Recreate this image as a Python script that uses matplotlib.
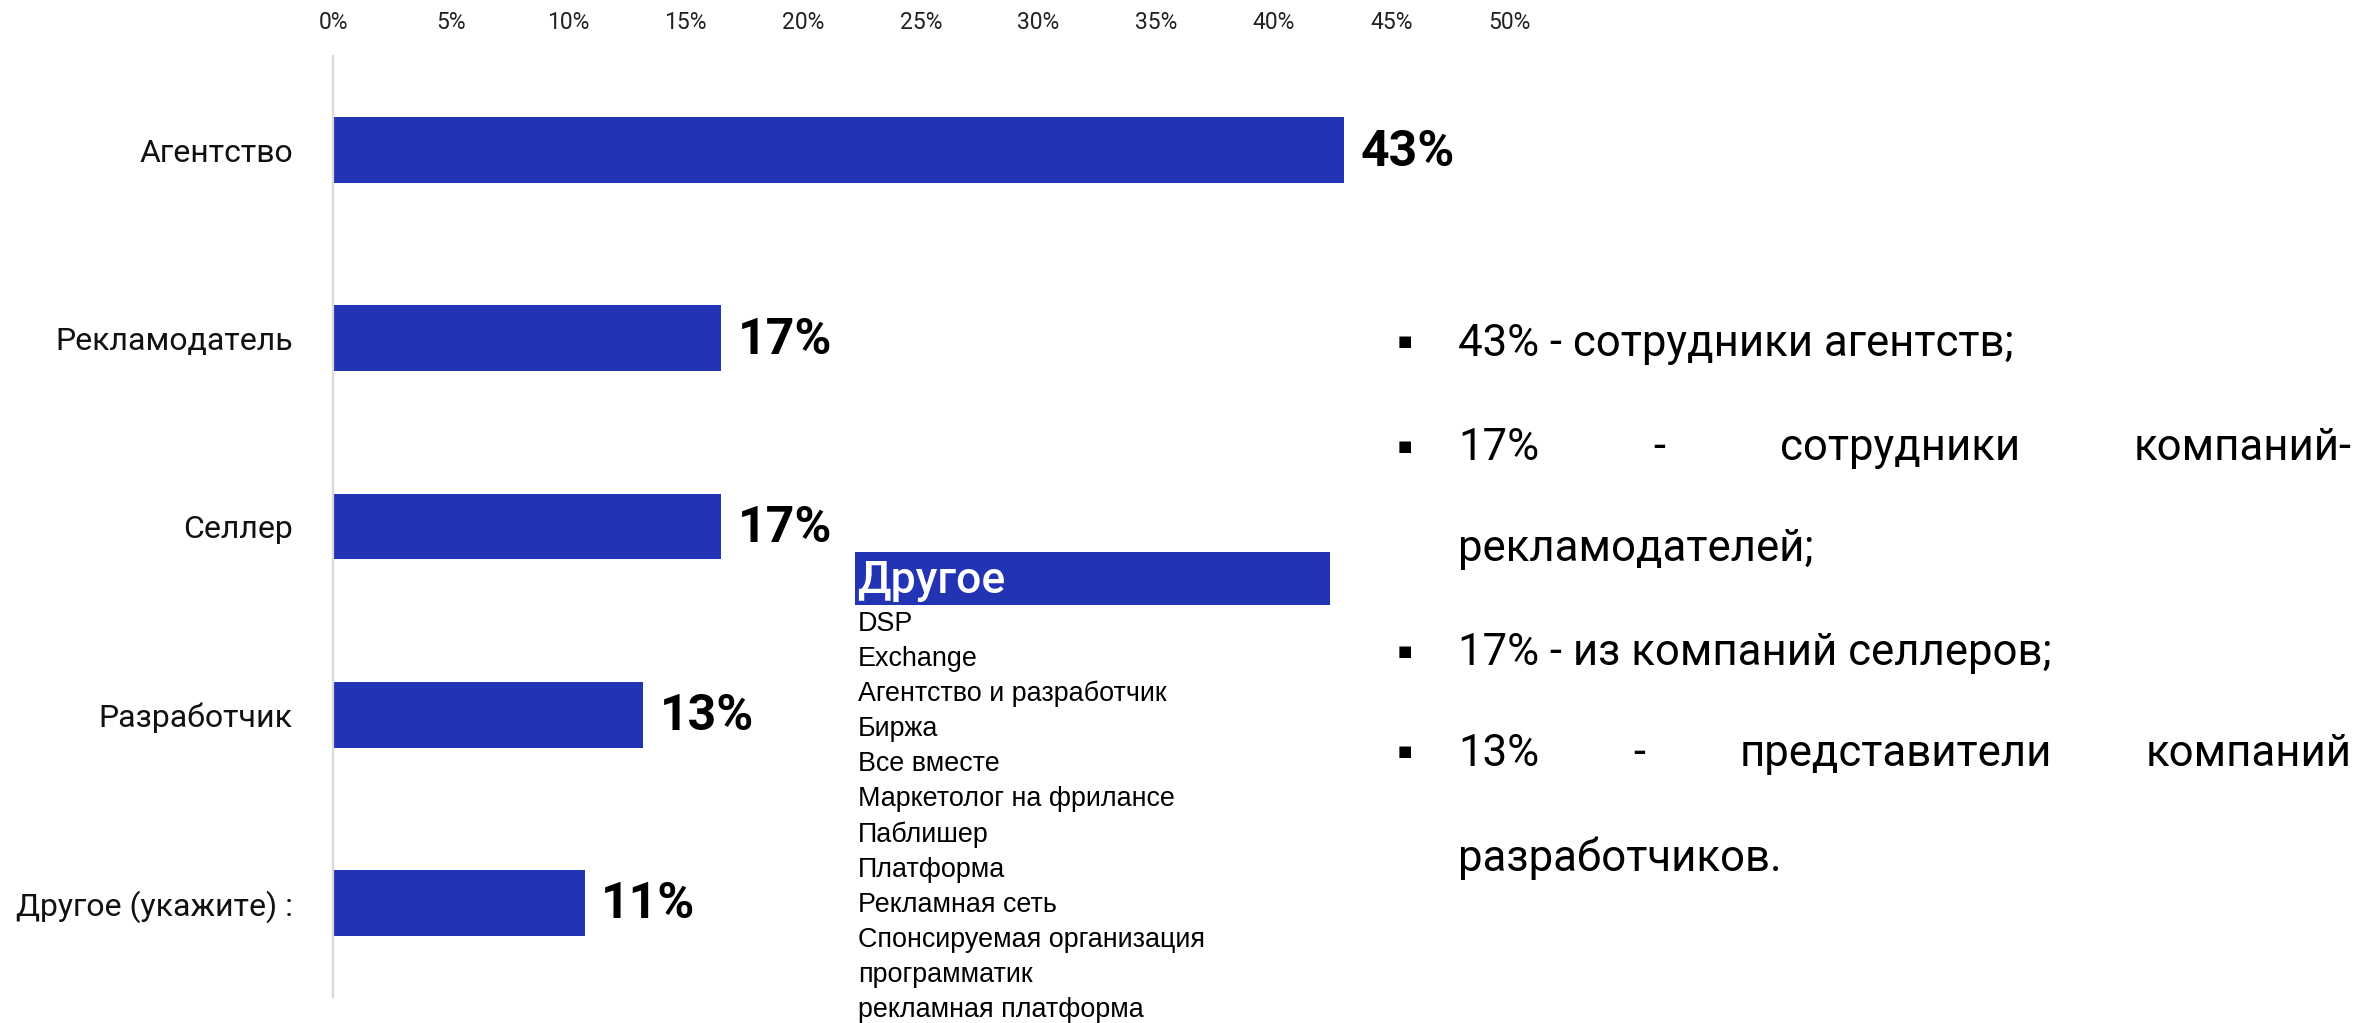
import matplotlib
matplotlib.use("Agg")
import matplotlib.pyplot as plt
from matplotlib.patches import Rectangle

# ---------------- data ----------------
categories = ["Агентство", "Рекламодатель", "Селлер", "Разработчик", "Другое (укажите) :"]
values = [43.0, 16.5, 16.5, 13.2, 10.7]
value_labels = ["43%", "17%", "17%", "13%", "11%"]
xticks = [0, 5, 10, 15, 20, 25, 30, 35, 40, 45, 50]
xtick_labels = [f"{t}%" for t in xticks]

other_title = "Другое"
other_items = ["DSP", "Exchange", "Агентство и разработчик", "Биржа", "Все вместе",
               "Маркетолог на фрилансе", "Паблишер", "Платформа", "Рекламная сеть",
               "Спонсируемая организация", "программатик", "рекламная платформа"]

bullet_lines = [
    ["43% - сотрудники агентств;"],
    ["17%", "-", "сотрудники", "компаний-"],
    ["рекламодателей;"],
    ["17% - из компаний селлеров;"],
    ["13%", "-", "представители", "компаний"],
    ["разработчиков."],
]
bullet_flags = [True, True, False, True, True, False]

# ---------------- style ----------------
BLUE = "#2233B4"
W, H = 2364, 1023
FONT = ["Roboto", "DejaVu Sans"]

fig = plt.figure(figsize=(W / 100, H / 100), dpi=100)
fig.patch.set_facecolor("white")


def fx(x):
    return x / W


def fy(y):
    return 1 - y / H


ax = fig.add_axes([fx(333), fy(997), (1509 - 333) / W, (997 - 56) / H])
ypos = list(range(len(categories)))
ax.barh(ypos, values, height=0.35, color=BLUE, edgecolor="none")
ax.set_xlim(0, 50)
ax.set_ylim(len(categories) - 0.5, -0.5)

ax.xaxis.tick_top()
ax.set_xticks(xticks)
ax.set_xticklabels(xtick_labels, fontsize=16.5, family=FONT, color="#222222")
ax.tick_params(axis="x", length=0, pad=16)
ax.set_yticks(ypos)
ax.set_yticklabels(categories, fontsize=23, family=FONT, color="#111111")
ax.tick_params(axis="y", length=0, pad=29)

for s in ["top", "right", "bottom"]:
    ax.spines[s].set_visible(False)
ax.spines["left"].set_color("#d9d9d9")
ax.spines["left"].set_linewidth(1.6)

for i, (v, lab) in enumerate(zip(values, value_labels)):
    ax.annotate(lab, (v, i), xytext=(12, -1.5), textcoords="offset points",
                ha="left", va="center", fontsize=36, fontweight="bold",
                family=FONT, color="#000000")

# ---------------- "Другое" box ----------------
fig.patches.append(Rectangle((fx(855), fy(605)), (1330 - 855) / W, (605 - 552) / H,
                             transform=fig.transFigure, facecolor=BLUE,
                             edgecolor="none", zorder=1))
fig.text(fx(857), fy(581), other_title, fontsize=32, fontweight="medium",
         family=FONT, color="white", ha="left", va="center", zorder=2)

item_y0, item_dy = 624, 35.1
for k, item in enumerate(other_items):
    fig.text(fx(858), fy(item_y0 + k * item_dy), item, fontsize=19.4,
             family=["Liberation Sans", "DejaVu Sans"], color="#000000",
             ha="left", va="center")

# ---------------- bullet paragraph ----------------
line_y = [344, 448, 549, 653, 754, 858]
x_left, x_right, x_bullet = 1458, 2352, 1405
fs_text = 31.5

fig.canvas.draw()
renderer = fig.canvas.get_renderer()

for words, bul, yy in zip(bullet_lines, bullet_flags, line_y):
    if bul:
        fig.text(fx(x_bullet), fy(yy - 2), "■", fontsize=11, family="DejaVu Sans",
                 color="#000000", ha="center", va="center")
    if len(words) == 1:
        fig.text(fx(x_left), fy(yy), words[0], fontsize=fs_text, family=FONT,
                 color="#000000", ha="left", va="center")
    else:
        objs = [fig.text(0, fy(yy), w, fontsize=fs_text, family=FONT,
                         color="#000000", ha="left", va="center") for w in words]
        widths = [o.get_window_extent(renderer).width for o in objs]
        gap = (x_right - x_left - sum(widths)) / (len(words) - 1)
        xc = x_left
        for o, wd in zip(objs, widths):
            o.set_x(fx(xc))
            xc += wd + gap

fig.savefig("out.png", dpi=100, facecolor="white")
